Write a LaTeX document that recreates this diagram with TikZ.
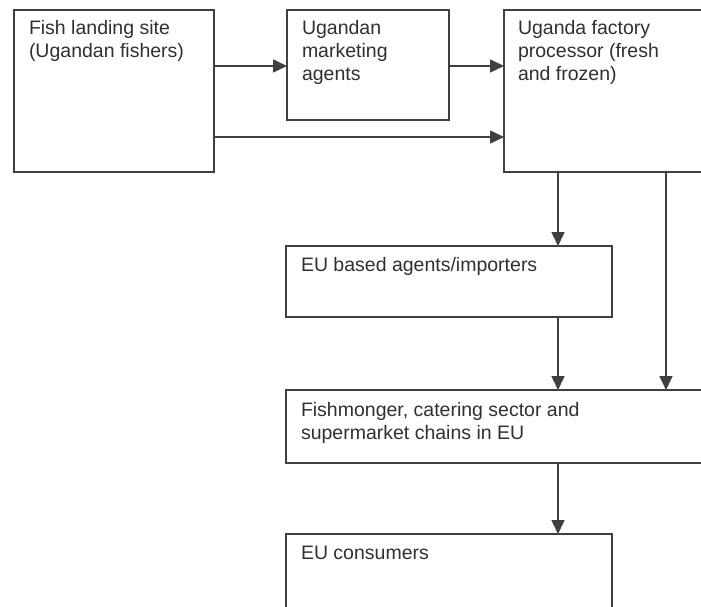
\documentclass[tikz,border=0pt]{standalone}
\usepackage{fontspec}
\setmainfont{Liberation Sans}
\usetikzlibrary{arrows.meta}
\definecolor{linec}{HTML}{404040}
\definecolor{textc}{HTML}{303030}
\tikzset{
  box/.style={draw=linec, line width=1.6pt, fill=white, inner sep=0pt, outer sep=0pt, anchor=north west},
  lbl/.style={anchor=north west, inner sep=0pt, outer sep=0pt, align=left, text=textc, font=\fontsize{19.5}{23}\selectfont},
  arr/.style={draw=linec, line width=1.6pt, -{Triangle[length=14pt,width=13pt]}}
}
\newcommand{\fl}{\rule{0pt}{15pt}}
\begin{document}
\begin{tikzpicture}[x=1pt,y=-1pt]
\useasboundingbox (0,0) rectangle (701,607);
\clip (0,0) rectangle (701,607);
\fill[white] (0,0) rectangle (701,607);
% boxes
\node[box, minimum width=200pt, minimum height=162pt] (b1) at (14,10) {};
\node[box, minimum width=162pt, minimum height=110pt] (b2) at (287,10) {};
\node[box, minimum width=210pt, minimum height=162pt] (b3) at (504,10) {};
\node[box, minimum width=326pt, minimum height=71pt] (b4) at (286,246) {};
\node[box, minimum width=430pt, minimum height=73pt] (b5) at (286,390) {};
\node[box, minimum width=326pt, minimum height=90pt] (b6) at (286,534) {};
% texts
\node[lbl] (t1) at (29,20) {\fl Fish landing site\\(Ugandan fishers)};
\node[lbl] (t2) at (302,20) {\fl Ugandan\\marketing\\agents};
\node[lbl] (t3) at (518,20) {\fl Uganda factory\\processor (fresh\\and frozen)};
\node[lbl] (t4) at (301,256) {\fl EU based agents/importers};
\node[lbl] (t5) at (301,401) {\fl Fishmonger, catering sector and\\supermarket chains in EU};
\node[lbl] (t6) at (301,544) {\fl EU consumers};
% helper coordinates
\coordinate (ya) at (0,66);
\coordinate (yb) at (0,137);
\coordinate (xa) at (558,0);
\coordinate (xb) at (666,0);
% connectors
\draw[arr] (b1.east |- ya) -- (b2.west |- ya);
\draw[arr] (b2.east |- ya) -- (b3.west |- ya);
\draw[arr] (b1.east |- yb) -- (b3.west |- yb);
\draw[arr] (b3.south -| xa) -- (b4.north -| xa);
\draw[arr] (b4.south -| xa) -- (b5.north -| xa);
\draw[arr] (b3.south -| xb) -- (b5.north -| xb);
\draw[arr] (b5.south -| xa) -- (b6.north -| xa);
\end{tikzpicture}
\end{document}
